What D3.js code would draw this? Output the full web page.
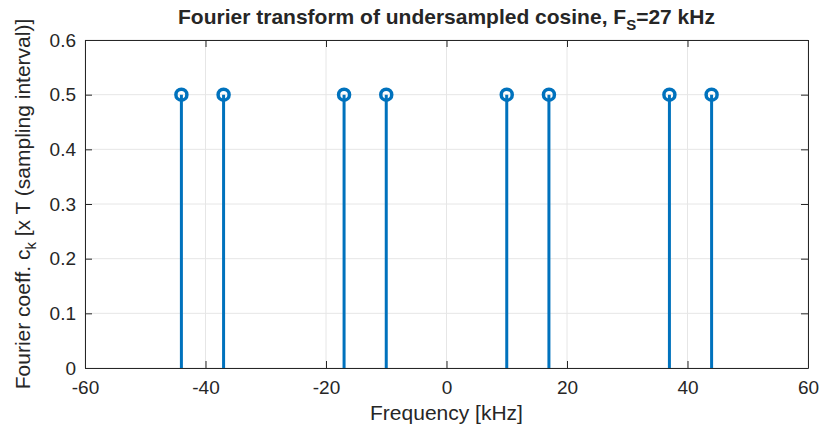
<!DOCTYPE html>
<html>
<head>
<meta charset="utf-8">
<script src="https://cdn.jsdelivr.net/npm/d3@7"></script>
<style>
  body { margin: 0; background: #fff; }
  text { font-family: "Liberation Sans", Arial, sans-serif; fill: #262626; }
</style>
</head>
<body>
<svg id="chart"></svg>
<script>
// Stem data
let freqs = [-44, -37, -17, -10, 10, 17, 37, 44];
let coeffs = [0.5, 0.5, 0.5, 0.5, 0.5, 0.5, 0.5, 0.5];
let xTicks = [-60, -40, -20, 0, 20, 40, 60];
let yTicks = [0, 0.1, 0.2, 0.3, 0.4, 0.5, 0.6];

let width = 819;
let height = 430;
let margin = {left: 85, right: 11, top: 40, bottom: 62};

let svg = d3.select("#chart").attr("width", width).attr("height", height);

let x = d3.scaleLinear().domain([-60, 60]).range([margin.left, width - margin.right]);
let y = d3.scaleLinear().domain([0, 0.6]).range([height - margin.bottom, margin.top]);

// grid
svg.append("g").selectAll("line.gx")
    .data(xTicks).enter().append("line")
    .attr("x1", d => x(d)).attr("x2", d => x(d))
    .attr("y1", y(0)).attr("y2", y(0.6))
    .attr("stroke", "#e6e6e6").attr("stroke-width", 1);
svg.append("g").selectAll("line.gy")
    .data(yTicks).enter().append("line")
    .attr("x1", x(-60)).attr("x2", x(60))
    .attr("y1", d => y(d)).attr("y2", d => y(d))
    .attr("stroke", "#e6e6e6").attr("stroke-width", 1);

// axes (ticks point inward like MATLAB)
let tickLen = 7;
let xAxis = svg.append("g").attr("transform", "translate(0," + y(0) + ")")
    .call(d3.axisBottom(x).tickValues(xTicks).tickSizeInner(-tickLen).tickSizeOuter(0).tickPadding(13)
        .tickFormat(d => String(d)));
let xTop = svg.append("g").attr("transform", "translate(0," + y(0.6) + ")")
    .call(d3.axisTop(x).tickValues(xTicks).tickSizeInner(-tickLen).tickSizeOuter(0).tickFormat(""));
let yAxis = svg.append("g").attr("transform", "translate(" + x(-60) + ",0)")
    .call(d3.axisLeft(y).tickValues(yTicks).tickSizeInner(-tickLen).tickSizeOuter(0).tickPadding(9)
        .tickFormat(d => d === 0 ? "0" : d.toFixed(1)));
let yRight = svg.append("g").attr("transform", "translate(" + x(60) + ",0)")
    .call(d3.axisRight(y).tickValues(yTicks).tickSizeInner(-tickLen).tickSizeOuter(0).tickFormat(""));

[xAxis, xTop, yAxis, yRight].forEach(function(g){
    g.select(".domain").attr("stroke", "#262626").attr("stroke-width", 1);
    g.selectAll(".tick line").attr("stroke", "#262626").attr("stroke-width", 1);
    g.selectAll(".tick text").attr("font-size", 19).attr("fill", "#262626")
        .attr("font-family", "Liberation Sans, Arial, sans-serif");
});

// stems
let blue = "#0072BD";
svg.append("g").selectAll("line.stem")
    .data(freqs).enter().append("line")
    .attr("x1", d => x(d)).attr("x2", d => x(d))
    .attr("y1", y(0)).attr("y2", (d, i) => y(coeffs[i]))
    .attr("stroke", blue).attr("stroke-width", 3);

svg.append("g").selectAll("circle.mark")
    .data(freqs).enter().append("circle")
    .attr("cx", d => x(d))
    .attr("cy", (d, i) => y(coeffs[i]))
    .attr("r", 5.5)
    .attr("fill", "none")
    .attr("stroke", blue).attr("stroke-width", 3.5);

// title
let title = svg.append("text")
    .attr("x", x(0)).attr("y", 24)
    .attr("text-anchor", "middle")
    .attr("font-size", 21).attr("font-weight", "bold")
    .attr("fill", "#000");
title.append("tspan").text("Fourier transform of undersampled cosine, F");
title.append("tspan").attr("font-size", 15).attr("dy", 6).text("S");
title.append("tspan").attr("dy", -6).text("=27 kHz");

// x label
svg.append("text")
    .attr("x", x(0)).attr("y", 420)
    .attr("text-anchor", "middle")
    .attr("font-size", 21)
    .text("Frequency [kHz]");

// y label
let yl = svg.append("text")
    .attr("transform", "translate(30," + y(0.3) + ") rotate(-90)")
    .attr("text-anchor", "middle")
    .attr("font-size", 21);
yl.append("tspan").text("Fourier coeff. c");
yl.append("tspan").attr("font-size", 15).attr("dy", 6).text("k");
yl.append("tspan").attr("dy", -6).text(" [x T (sampling interval)]");
</script>
</body>
</html>
